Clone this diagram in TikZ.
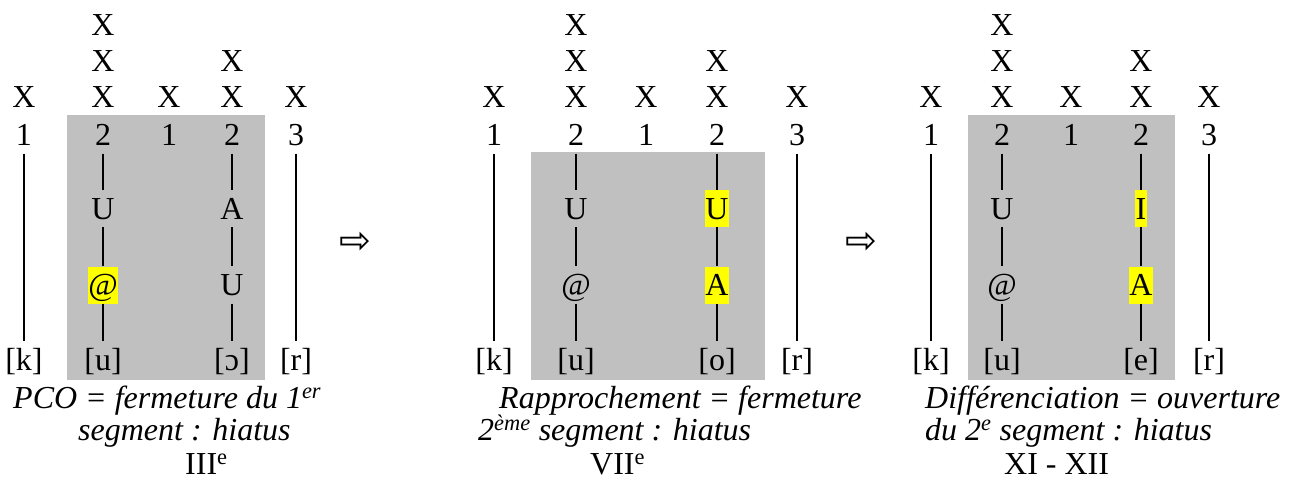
\documentclass[tikz,border=0pt]{standalone}
\usepackage{fontspec}
\setmainfont{Liberation Serif}
\newfontfamily\arrowfont{DejaVu Sans}
\usepackage{xcolor}
\definecolor{boxGray}{HTML}{C0C0C0}
\definecolor{markYellow}{HTML}{FFFF00}

\tikzset{
  seg/.style={inner xsep=0.5pt, inner ysep=0pt, text height=29pt, text depth=8pt, font=\fontsize{32}{38}\selectfont},
  hilite/.style={seg, fill=markYellow},
  link/.style={line width=2pt},
  caption/.style={anchor=base west, inner sep=0pt, font=\fontsize{32}{38}\selectfont\itshape},
  century/.style={anchor=base west, inner sep=0pt, font=\fontsize{32}{38}\selectfont},
  step arrow/.style={inner sep=0pt, font=\fontsize{38}{40}\arrowfont}
}

\begin{document}
\begin{tikzpicture}[x=1pt, y=-1pt]
  \useasboundingbox (0,0) rectangle (1295,488);
  % III
  \fill[boxGray] (67,115) rectangle (265,380);
  \node[seg] (a1x) at (24,97) {X};
  \node[seg] (a2x) at (103,97) {X};
  \node[seg] (a2xx) at (103,61) {X};
  \node[seg] (a2xxx) at (103,25) {X};
  \node[seg] (a3x) at (169,97) {X};
  \node[seg] (a4x) at (232,97) {X};
  \node[seg] (a4xx) at (232,61) {X};
  \node[seg] (a5x) at (296,97) {X};
  \node[seg] (a1) at (24,135) {1};
  \node[seg] (a2) at (103,135) {2};
  \node[seg] (a3) at (169,135) {1};
  \node[seg] (a4) at (232,135) {2};
  \node[seg] (a5) at (296,135) {3};
  \node[seg] (a2u) at (103,208.5) {U};
  \node[seg] (a4u) at (232,208.5) {A};
  \node[hilite] (a2m) at (103,285) {@};
  \node[seg] (a4m) at (232,285) {U};
  \node[seg] (a1b) at (24,359.5) {[k]};
  \node[seg] (a2b) at (103,359.5) {[u]};
  \node[seg] (a4b) at (232,359.5) {[ɔ]};
  \node[seg] (a5b) at (296,359.5) {[r]};
  \draw[link] (a1) -- (a1b);
  \draw[link] (a2) -- (a2u);
  \draw[link] (a2u) -- (a2m);
  \draw[link] (a2m) -- (a2b);
  \draw[link] (a4) -- (a4u);
  \draw[link] (a4u) -- (a4m);
  \draw[link] (a4m) -- (a4b);
  \draw[link] (a5) -- (a5b);
  \node[caption] (a-cap1) at (13,408) {PCO = fermeture du 1\textsuperscript{er}};
  \node[caption] (a-cap2) at (78,440) {segment : hiatus};
  \node[century] (a-cap3) at (185,474) {III\textsuperscript{e}};

  \node[step arrow] (ab) at (355,243) {⇨};

  % VII
  \fill[boxGray] (531,152) rectangle (765,380);
  \node[seg] (b1x) at (494,97) {X};
  \node[seg] (b2x) at (576,97) {X};
  \node[seg] (b2xx) at (576,61) {X};
  \node[seg] (b2xxx) at (576,25) {X};
  \node[seg] (b3x) at (646,97) {X};
  \node[seg] (b4x) at (717,97) {X};
  \node[seg] (b4xx) at (717,61) {X};
  \node[seg] (b5x) at (797,97) {X};
  \node[seg] (b1) at (494,135) {1};
  \node[seg] (b2) at (576,135) {2};
  \node[seg] (b3) at (646,135) {1};
  \node[seg] (b4) at (717,135) {2};
  \node[seg] (b5) at (797,135) {3};
  \node[seg] (b2u) at (576,208.5) {U};
  \node[hilite] (b4u) at (717,208.5) {U};
  \node[seg] (b2m) at (576,285) {@};
  \node[hilite] (b4m) at (717,285) {A};
  \node[seg] (b1b) at (494,359.5) {[k]};
  \node[seg] (b2b) at (576,359.5) {[u]};
  \node[seg] (b4b) at (717,359.5) {[o]};
  \node[seg] (b5b) at (797,359.5) {[r]};
  \draw[link] (b1) -- (b1b);
  \draw[link] (b2) -- (b2u);
  \draw[link] (b2u) -- (b2m);
  \draw[link] (b2m) -- (b2b);
  \draw[link] (b4) -- (b4u);
  \draw[link] (b4u) -- (b4m);
  \draw[link] (b4m) -- (b4b);
  \draw[link] (b5) -- (b5b);
  \node[caption] (b-cap1) at (499,408) {Rapprochement = fermeture};
  \node[caption] (b-cap2) at (478,440) {2\textsuperscript{ème} segment : hiatus};
  \node[century] (b-cap3) at (590,474) {VII\textsuperscript{e}};

  \node[step arrow] (bc) at (861,243) {⇨};

  % XI - XII
  \fill[boxGray] (968,115) rectangle (1175,380);
  \node[seg] (c1x) at (931,97) {X};
  \node[seg] (c2x) at (1002,97) {X};
  \node[seg] (c2xx) at (1002,61) {X};
  \node[seg] (c2xxx) at (1002,25) {X};
  \node[seg] (c3x) at (1071,97) {X};
  \node[seg] (c4x) at (1141,97) {X};
  \node[seg] (c4xx) at (1141,61) {X};
  \node[seg] (c5x) at (1209,97) {X};
  \node[seg] (c1) at (931,135) {1};
  \node[seg] (c2) at (1002,135) {2};
  \node[seg] (c3) at (1071,135) {1};
  \node[seg] (c4) at (1141,135) {2};
  \node[seg] (c5) at (1209,135) {3};
  \node[seg] (c2u) at (1002,208.5) {U};
  \node[hilite] (c4u) at (1141,208.5) {I};
  \node[seg] (c2m) at (1002,285) {@};
  \node[hilite] (c4m) at (1141,285) {A};
  \node[seg] (c1b) at (931,359.5) {[k]};
  \node[seg] (c2b) at (1002,359.5) {[u]};
  \node[seg] (c4b) at (1141,359.5) {[e]};
  \node[seg] (c5b) at (1209,359.5) {[r]};
  \draw[link] (c1) -- (c1b);
  \draw[link] (c2) -- (c2u);
  \draw[link] (c2u) -- (c2m);
  \draw[link] (c2m) -- (c2b);
  \draw[link] (c4) -- (c4u);
  \draw[link] (c4u) -- (c4m);
  \draw[link] (c4m) -- (c4b);
  \draw[link] (c5) -- (c5b);
  \node[caption] (c-cap1) at (925,408) {Différenciation = ouverture};
  \node[caption] (c-cap2) at (925,440) {du 2\textsuperscript{e} segment : hiatus};
  \node[century] (c-cap3) at (1004,474) {XI - XII};
\end{tikzpicture}
\end{document}
